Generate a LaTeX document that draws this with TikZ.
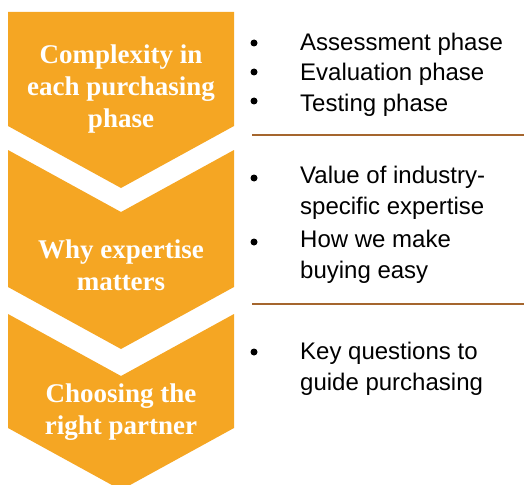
\documentclass[tikz,border=0pt]{standalone}
\usepackage{fontspec}
\setmainfont{Liberation Serif}
\setsansfont{Liberation Sans}
\usepackage{tikz}
\usetikzlibrary{positioning}
\usepackage{xcolor}
\definecolor{amber}{HTML}{F5A623}
\definecolor{rust}{HTML}{A5662E}

\begin{document}
\begin{tikzpicture}[
  x=1pt, y=-1pt,
  stage/.style={fill=amber, draw=none},
  title/.style={font=\fontsize{27}{32}\selectfont\bfseries,
    text=white, align=center, inner sep=0pt},
  item/.style={font=\sffamily\fontsize{24}{31}\selectfont,
    anchor=west, align=left, inner sep=0pt},
  dot/.style={circle, fill=black, inner sep=0pt, minimum size=7pt},
  rule/.style={draw=rust, line width=1.8pt},
]
\useasboundingbox (0,0) rectangle (524,484);
\clip (0,0) rectangle (524,484);

% === Chevrons ===
\fill[stage] (8,12) -- (234,12) -- (234,126) -- (121,188) -- (8,126) -- cycle;
\fill[stage] (8,150) -- (121,212) -- (234,150) -- (234,287)
  -- (121,349) -- (8,287) -- cycle;
\fill[stage] (8,314) -- (121,376) -- (234,314) -- (234,428)
  -- (121,490) -- (8,428) -- cycle;

\node[title] (complexity) at (121,89) {Complexity in\\each purchasing\\phase};
\node[title] (expertise) at (121,265) {Why expertise\\matters};
\node[title] (partner) at (121,412) {Choosing the\\right partner};

% === Phases ===
\node[item] (assess) at (300,44) {Assessment phase};
\node[item] (evaluate) at (300,74) {Evaluation phase};
\node[item] (test) at (300,105) {Testing phase};
\node[dot] (dot_assess) at (254,43) {};
\node[dot] (dot_evaluate) at (254,72) {};
\node[dot] (dot_test) at (254,101) {};

\coordinate (sep1_l) at (252,135);
\coordinate (sep1_r) at (524,135);
\draw[rule] (sep1_l) -- (sep1_r);

% === Expertise ===
\node[item] (value) at (300,193) {Value of industry-\\specific expertise};
\node[item] (easy) at (300,257) {How we make\\buying easy};
\node[dot] (dot_value) at (254,178) {};
\node[dot] (dot_easy) at (254,242) {};

\coordinate (sep2_l) at (252,304);
\coordinate (sep2_r) at (524,304);
\draw[rule] (sep2_l) -- (sep2_r);

% === Partner ===
\node[item] (questions) at (300,369) {Key questions to\\guide purchasing};
\node[dot] (dot_questions) at (254,352) {};

\end{tikzpicture}
\end{document}
